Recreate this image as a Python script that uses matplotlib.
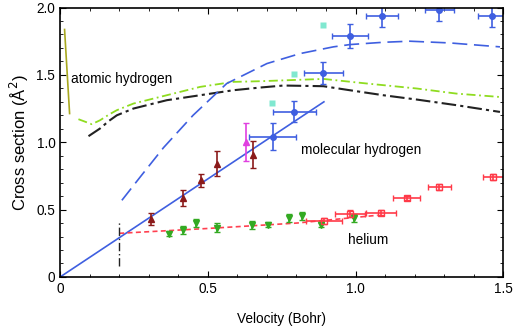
import matplotlib.pyplot as plt
from matplotlib.ticker import MultipleLocator

plt.rcParams['font.family'] = ['Liberation Sans', 'DejaVu Sans']

# molecular hydrogen measurements (blue circles)
h2_v = [0.72, 0.793, 0.891, 0.981, 1.089, 1.284, 1.461]
h2_y = [1.04, 1.228, 1.515, 1.789, 1.938, 1.98, 1.938]
h2_xerr = [0.08, 0.073, 0.065, 0.06, 0.055, 0.05, 0.045]
h2_yerr = [0.10, 0.075, 0.08, 0.09, 0.08, 0.08, 0.08]

# cyan squares
sq_v = [0.718, 0.793, 0.889]
sq_y = [1.295, 1.503, 1.869]

# dark red triangles
tri_v = [0.308, 0.417, 0.477, 0.530, 0.652]
tri_y = [0.433, 0.587, 0.718, 0.842, 0.909]
tri_err = [0.045, 0.057, 0.05, 0.093, 0.098]

# magenta triangle
mag_v = [0.629]
mag_y = [1.003]
mag_err = [0.14]

# helium, green down triangles
he_v = [0.37, 0.417, 0.459, 0.531, 0.651, 0.705, 0.775, 0.82, 0.882, 0.996]
he_y = [0.322, 0.347, 0.40, 0.367, 0.389, 0.389, 0.435, 0.45, 0.389, 0.438]
he_err = [0.02, 0.03, 0.03, 0.03, 0.03, 0.02, 0.03, 0.03, 0.02, 0.03]

# helium, red open squares
hs_v = [0.893, 0.981, 1.086, 1.173, 1.284, 1.467]
hs_y = [0.416, 0.47, 0.478, 0.589, 0.668, 0.742]
hs_xerr = [0.06, 0.052, 0.05, 0.045, 0.04, 0.035]
hs_yerr = [0.02, 0.025, 0.02, 0.015, 0.02, 0.02]

# model curves
fit_v = [0.0, 0.893]
fit_y = [0.0, 1.30]

he_fit_v = [0.2, 0.5, 0.8, 1.075]
he_fit_y = [0.324, 0.36, 0.40, 0.458]

cut_v = [0.2, 0.2]
cut_y = [0.079, 0.413]

olive_v = [0.015, 0.032]
olive_y = [1.837, 1.213]

lime_v = [0.062, 0.107, 0.135, 0.165, 0.192, 0.248, 0.361, 0.474, 0.586,
          0.677, 0.891, 1.038, 1.207, 1.342, 1.489]
lime_y = [1.171, 1.134, 1.163, 1.205, 1.238, 1.287, 1.349, 1.411, 1.448,
          1.453, 1.47, 1.436, 1.399, 1.361, 1.336]

dd_v = [0.096, 0.135, 0.165, 0.192, 0.248, 0.361, 0.474, 0.586, 0.677,
        0.756, 0.891, 0.981, 1.094, 1.207, 1.342, 1.489]
dd_y = [1.045, 1.102, 1.158, 1.2, 1.25, 1.312, 1.349, 1.386, 1.406,
        1.421, 1.416, 1.386, 1.349, 1.317, 1.275, 1.225]

bd_v = [0.209, 0.271, 0.35, 0.45, 0.564, 0.7, 0.812, 0.925, 0.981, 1.094,
        1.184, 1.32, 1.489]
bd_y = [0.569, 0.742, 0.96, 1.2, 1.436, 1.584, 1.658, 1.708, 1.725, 1.742,
        1.75, 1.737, 1.708]

blue = '#3f5fe0'
fig, ax = plt.subplots(figsize=(5.14, 3.27), dpi=100)
fig.subplots_adjust(left=0.117, right=0.979, bottom=0.153, top=0.977)

ax.plot(olive_v, olive_y, color='#a8a820', lw=1.2)
ax.plot(lime_v, lime_y, color='#8fdc20', lw=1.3, dashes=(5, 2, 1, 2))
ax.plot(dd_v, dd_y, color='#222222', lw=1.5, dashes=(7, 2, 1.5, 2))
ax.plot(bd_v, bd_y, color=blue, lw=1.2, dashes=(9, 4))
ax.plot(fit_v, fit_y, color=blue, lw=1.2)
ax.plot(he_fit_v, he_fit_y, color='#ff4050', lw=1.2, dashes=(3, 2))
ax.plot(cut_v, cut_y, color='#222222', lw=1.0, dashes=(6, 2, 1, 2))

ax.errorbar(h2_v, h2_y, xerr=h2_xerr, yerr=h2_yerr, fmt='o', ms=4,
            color=blue, capsize=2.5, lw=1.2, clip_on=True)
ax.plot(sq_v, sq_y, 's', ms=4.5, color='#80e8d0', mec='none')
ax.errorbar(tri_v, tri_y, yerr=tri_err, fmt='^', ms=4.5, color='#8b1a1a',
            capsize=2.5, lw=1.2)
ax.errorbar(mag_v, mag_y, yerr=mag_err, fmt='^', ms=4.5, color='#e040e0',
            capsize=2.5, lw=1.2)
ax.errorbar(he_v, he_y, yerr=he_err, fmt='v', ms=4.5, color='#33aa22',
            capsize=2.5, lw=1.2)
ax.errorbar(hs_v, hs_y, xerr=hs_xerr, yerr=hs_yerr, fmt='s', ms=4,
            color='#ff3a48', mfc='none', capsize=2.5, lw=1.2)

ax.text(0.037, 1.473, 'atomic hydrogen', fontsize=9.8, va='center')
ax.text(0.815, 0.94, 'molecular hydrogen', fontsize=9.8, va='center')
ax.text(0.974, 0.272, 'helium', fontsize=9.8, va='center')

ax.set_xlim(0, 1.5)
ax.set_ylim(0, 2.0)
ax.set_xticks([0, 0.5, 1.0, 1.5])
ax.set_xticklabels(['0', '0.5', '1.0', '1.5'])
ax.set_yticks([0, 0.5, 1.0, 1.5, 2.0])
ax.set_yticklabels(['0', '0.5', '1.0', '1.5', '2.0'])
ax.xaxis.set_minor_locator(MultipleLocator(0.1))
ax.yaxis.set_minor_locator(MultipleLocator(0.1))
ax.tick_params(which='both', direction='in', top=True, right=True,
               labelsize=9.8)
ax.tick_params(which='major', length=4)
ax.tick_params(which='minor', length=2.5)
for s in ax.spines.values():
    s.set_linewidth(1.2)

ax.set_xlabel('Velocity (Bohr)', fontsize=9.8, labelpad=12)
ax.set_ylabel('Cross section (Å$^2$)', fontsize=12, labelpad=4)

fig.savefig('out.png', dpi=100)
